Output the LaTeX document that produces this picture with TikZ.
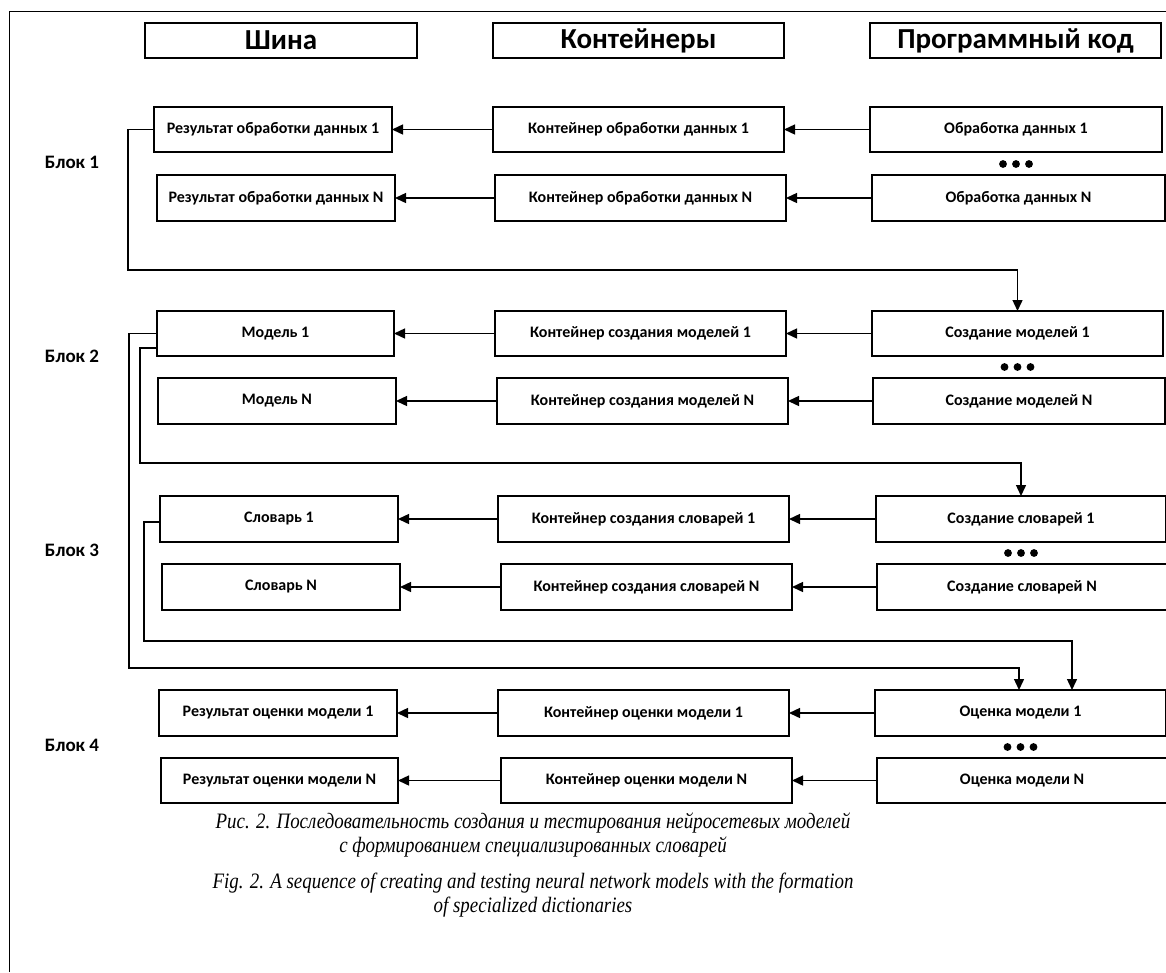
\documentclass[tikz,border=0pt]{standalone}
\usepackage{fontspec}
\setmainfont{Carlito}
\newfontfamily\capfont[FakeStretch=0.86]{Liberation Serif}
\usetikzlibrary{arrows.meta}
\newcommand\bx[7]{\node[#1, minimum width=#5pt, minimum height=#6pt] (#2) at (#3,#4) {#7};}
\begin{document}
\begin{tikzpicture}[x=1pt,y=-1pt,
  box/.style={draw, line width=1.2pt, inner sep=0pt, outer sep=0pt, font=\bfseries\fontsize{16}{19}\selectfont, align=center},
  hdr/.style={box, font=\bfseries\fontsize{29}{32}\selectfont},
  arr/.style={line width=1.4pt, -{Triangle[length=11pt,width=10pt]}},
  blk/.style={font=\bfseries\fontsize{19}{22}\selectfont, inner sep=0pt},
  captxt/.style={font=\capfont\itshape\fontsize{22}{24}\selectfont, align=center, inner sep=0pt},
  dotc/.style={fill=black}]
\useasboundingbox (0,0) rectangle (1166,972);
\draw[line width=1pt] (9,972) -- (9,11) -- (1166,11);
% headers
\bx{hdr}{hs}{281}{40.5}{272}{35}{Шина}
\bx{hdr}{hc}{638.5}{40.5}{291}{35}{Контейнеры}
\bx{hdr}{hp}{1015.5}{40.5}{291}{35}{Программный код}
% block labels
\node[blk] (b1) at (72,162) {Блок 1};
\node[blk] (b2) at (72,356) {Блок 2};
\node[blk] (b3) at (72,550) {Блок 3};
\node[blk] (b4) at (72,745) {Блок 4};
% block 1
\bx{box}{r11}{273}{129.5}{238}{45}{Результат обработки данных 1}
\bx{box}{c11}{638.5}{129.5}{291}{45}{Контейнер обработки данных 1}
\bx{box}{p11}{1016}{129.5}{292}{45}{Обработка данных 1}
\bx{box}{r1N}{276}{198}{238}{46}{Результат обработки данных N}
\bx{box}{c1N}{640.5}{198}{291}{46}{Контейнер обработки данных N}
\bx{box}{p1N}{1018.5}{198}{293}{46}{Обработка данных N}
% block 2
\bx{box}{r21}{275.5}{333.5}{237}{45}{Модель 1}
\bx{box}{c21}{640.5}{333.5}{291}{45}{Контейнер создания моделей 1}
\bx{box}{p21}{1017.5}{333.5}{291}{45}{Создание моделей 1}
\bx{box}{r2N}{277}{401}{238}{46}{Модель N}
\bx{box}{c2N}{642.5}{401}{291}{46}{Контейнер создания моделей N}
\bx{box}{p2N}{1019}{401}{292}{46}{Создание моделей N}
% block 3
\bx{box}{r31}{279}{519}{238}{46}{Словарь 1}
\bx{box}{c31}{643.5}{519}{291}{46}{Контейнер создания словарей 1}
\bx{box}{p31}{1021}{519}{290}{46}{Создание словарей 1}
\bx{box}{r3N}{281}{587}{238}{46}{Словарь N}
\bx{box}{c3N}{646.5}{587}{291}{46}{Контейнер создания словарей N}
\bx{box}{p3N}{1022}{587}{290}{46}{Создание словарей N}
% block 4
\bx{box}{r41}{278}{713}{238}{46}{Результат оценки модели 1}
\bx{box}{c41}{643.5}{713}{291}{46}{Контейнер оценки модели 1}
\bx{box}{p41}{1020.5}{713}{291}{46}{Оценка модели 1}
\bx{box}{r4N}{279.5}{780.5}{237}{45}{Результат оценки модели N}
\bx{box}{c4N}{646.5}{780.5}{291}{45}{Контейнер оценки модели N}
\bx{box}{p4N}{1022}{780.5}{290}{45}{Оценка модели N}
% horizontal arrows
\foreach \a/\b/\c in {p11/c11/r11, p1N/c1N/r1N, p21/c21/r21, p2N/c2N/r2N, p31/c31/r31, p3N/c3N/r3N, p41/c41/r41, p4N/c4N/r4N}{
  \draw[arr] (\a.west) -- (\b.east);
  \draw[arr] (\b.west) -- (\c.east);
}
% dots
\foreach \cx/\cy in {1016/164, 1017.5/367, 1021/553, 1020.5/747}{
  \foreach \dx in {-13,0,13}{\fill[dotc] (\cx+\dx,\cy) circle[radius=3.9pt];}
}
% loop connectors
\coordinate (a1) at (128,270);
\draw[arr] (r11.west) -| (a1) -| (p21.north);
\coordinate (a2) at (129,668);
\coordinate (e2) at (1019,668);
\draw[arr] (r21.west) -| (a2) -- (e2) -- (e2 |- p41.north);
\coordinate (a3) at (140,463);
\draw[arr] ([yshift=-14.5pt]r21.west) -| (a3) -| (p31.north);
\coordinate (a4) at (144,641);
\coordinate (e4) at (1072,641);
\draw[arr] ([yshift=-3pt]r31.west) -| (a4) -- (e4) -- (e4 |- p41.north);
% captions
\node[captxt] (capru) at (533,835) {Рис. 2. Последовательность создания и тестирования нейросетевых моделей\\с формированием специализированных словарей};
\node[captxt] (capen) at (533,895) {Fig. 2. A sequence of creating and testing neural network models with the formation\\of specialized dictionaries};
\end{tikzpicture}
\end{document}
